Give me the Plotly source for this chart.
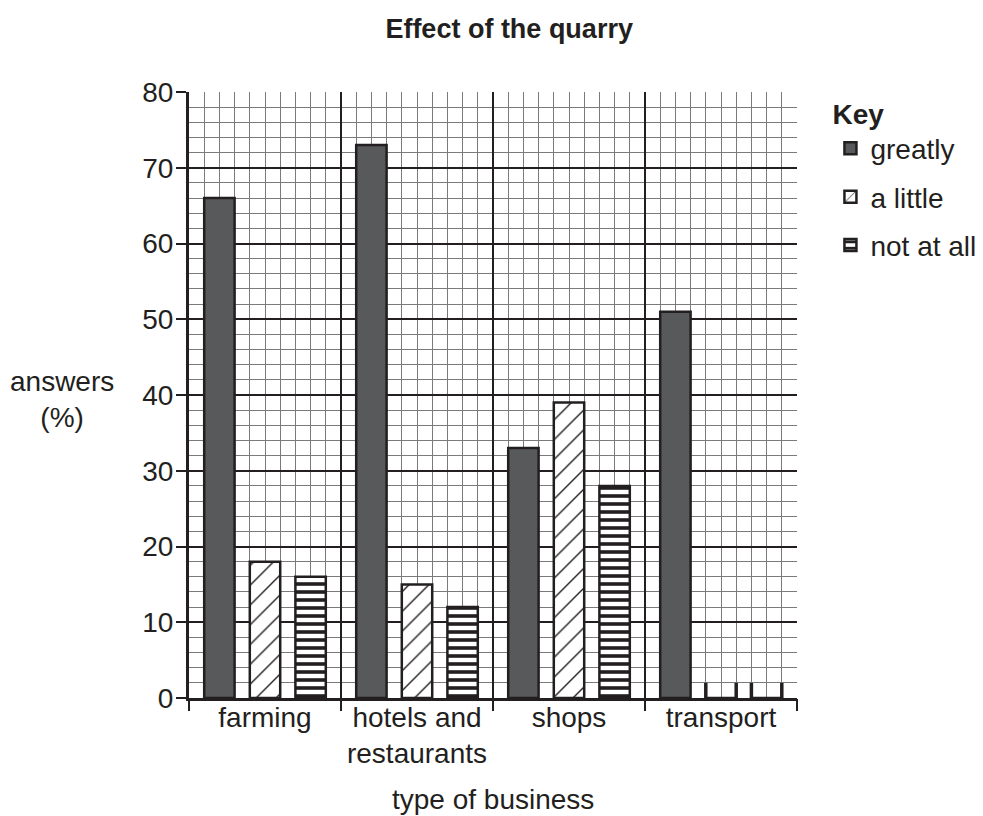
import plotly.graph_objects as go

# ---- data ----
categories = ["farming", "hotels and<br>restaurants", "shops", "transport"]
series_names = ["greatly", "a little", "not at all"]
greatly = [66, 73, 33, 51]
a_little = [18, 15, 39, 0]
not_at_all = [16, 12, 28, 0]
y_ticks = [0, 10, 20, 30, 40, 50, 60, 70, 80]

# ---- style ----
INK = "#231f20"
FONT = "Liberation Sans, Arial, sans-serif"
FS = 28
CELLS = 10            # grid cells per category
OFFSETS = [2, 5, 8]   # bar centre within a category (cells)
BAR_W = 2             # bar width (cells)

styles = [
    dict(color="#58595b", line=dict(color=INK, width=2.5)),
    dict(color="white", line=dict(color=INK, width=2.5),
         pattern=dict(shape="/", fgcolor=INK, fgopacity=1, bgcolor="white",
                      size=14, solidity=0.1)),
    dict(color="white", line=dict(color=INK, width=2.5),
         pattern=dict(shape="-", fgcolor=INK, fgopacity=1, bgcolor="white",
                      size=8, solidity=0.45)),
]

values = [greatly, a_little, not_at_all]
n_cat = len(categories)

fig = go.Figure()
zx, zy = [], []
for s, (name, vals, st) in enumerate(zip(series_names, values, styles)):
    xs = [i * CELLS + OFFSETS[s] for i in range(n_cat)]
    fig.add_trace(go.Bar(
        x=xs, y=vals, width=BAR_W, name=name, marker=st,
        legendgroup=name, showlegend=True,
    ))
    for x, v in zip(xs, vals):
        if v == 0:   # zero values drawn as short edge marks
            for e in (x - BAR_W / 2, x + BAR_W / 2):
                zx += [e, e, None]
                zy += [0, 2, None]

fig.add_trace(go.Scatter(
    x=zx, y=zy, mode="lines", line=dict(color=INK, width=3.5),
    showlegend=False, hoverinfo="skip", xaxis="x2",
))

x_max = n_cat * CELLS
GRID_MINOR = "#7a7a7a"
fig.update_layout(
    width=975, height=808,
    paper_bgcolor="white", plot_bgcolor="white",
    margin=dict(l=181, r=186, t=84, b=118, autoexpand=False),
    barmode="overlay",
    font=dict(family=FONT, size=FS, color=INK),
    title=dict(text="<b>Effect of the quarry</b>", x=0.514, xanchor="center",
               y=0.975, yanchor="middle", font=dict(size=27, family=FONT, color=INK)),
    xaxis=dict(
        range=[0, x_max], tickmode="array",
        tickvals=[i * CELLS + CELLS / 2 for i in range(n_cat)],
        ticktext=categories, ticks="", ticklabelstandoff=-8,
        showgrid=False, zeroline=False,
        showline=True, linecolor=INK, linewidth=3,
        minor=dict(tickmode="linear", tick0=0, dtick=1, showgrid=True,
                   gridcolor=GRID_MINOR, gridwidth=1.2, ticks=""),
        tickfont=dict(size=FS),
    ),
    xaxis2=dict(
        overlaying="x", side="bottom", range=[0, x_max], anchor="y",
        tickmode="linear", tick0=0, dtick=CELLS,
        ticks="outside", ticklen=12, tickwidth=2, tickcolor=INK,
        showticklabels=False, showgrid=True, gridcolor=INK, gridwidth=1.8,
        zeroline=False, showline=False,
    ),
    yaxis=dict(
        range=[0, 80], tickmode="array", tickvals=y_ticks,
        ticks="outside", ticklen=10, tickwidth=2, tickcolor=INK,
        ticklabelstandoff=-3,
        showgrid=True, gridcolor=INK, gridwidth=1.8, zeroline=False,
        showline=True, linecolor=INK, linewidth=3,
        minor=dict(tickmode="linear", tick0=0, dtick=2, showgrid=True,
                   gridcolor=GRID_MINOR, gridwidth=1.2, ticks=""),
        tickfont=dict(size=FS),
    ),
    legend=dict(
        x=1.055, xanchor="left", y=1.008, yanchor="top",
        title=dict(text="<b>Key</b>", font=dict(size=FS)),
        font=dict(size=FS), tracegroupgap=9, bgcolor="rgba(0,0,0,0)",
        traceorder="grouped",
    ),
    annotations=[
        dict(text="answers<br>(%)", xref="paper", yref="paper", x=-0.209, y=0.493,
             xanchor="center", yanchor="middle", showarrow=False, font=dict(size=FS)),
        dict(text="type of business", xref="paper", yref="paper", x=0.5, y=-0.168,
             xanchor="center", yanchor="middle", showarrow=False, font=dict(size=FS)),
    ],
)

fig.write_html("out.html")
